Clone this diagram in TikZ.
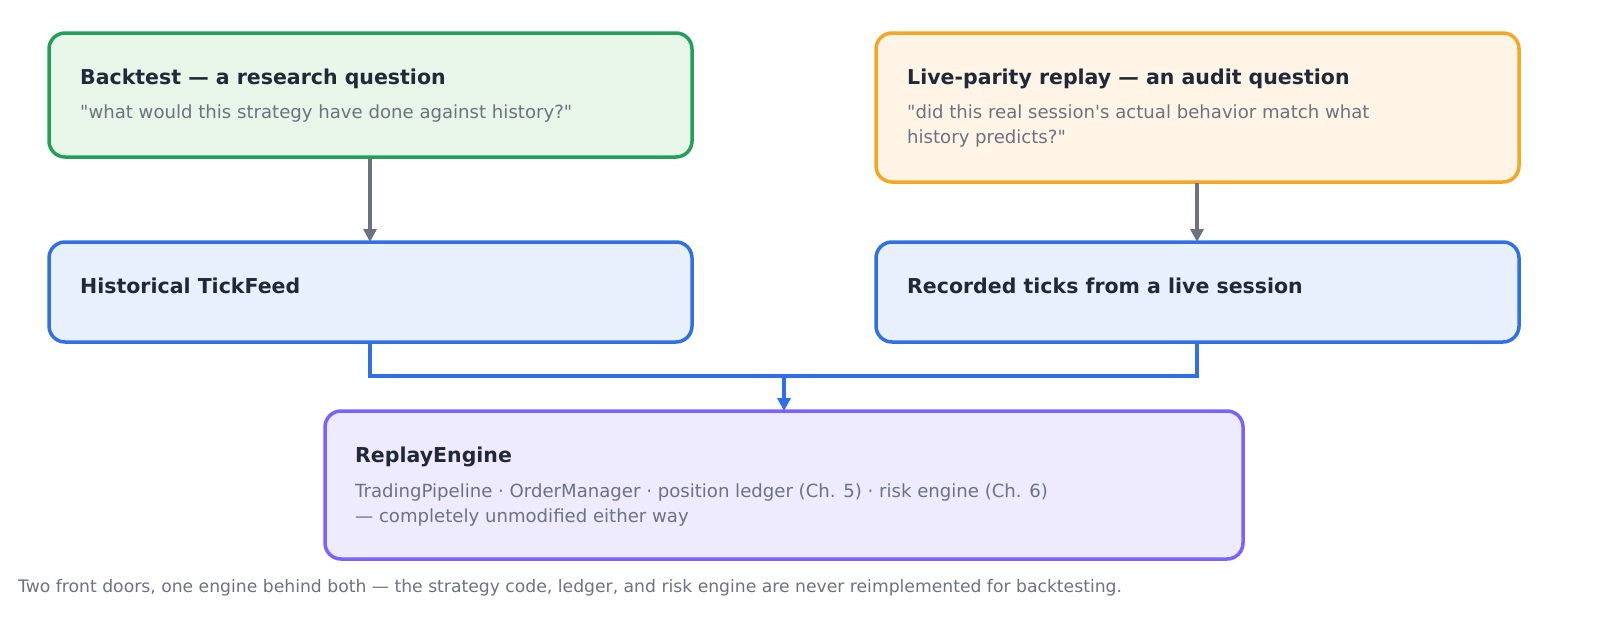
\documentclass[tikz,border=0pt]{standalone}
\usepackage{fontspec}
\setmainfont{DejaVu Sans}
\newfontfamily\dv{DejaVu Sans}
\usetikzlibrary{arrows.meta}
\definecolor{tcol}{HTML}{1F2937}
\definecolor{scol}{HTML}{6B7280}
\definecolor{gB}{HTML}{22A05A}\definecolor{gF}{HTML}{E8F5E9}
\definecolor{oB}{HTML}{F5A623}\definecolor{oF}{HTML}{FFF4E6}
\definecolor{bB}{HTML}{2F6FE8}\definecolor{bF}{HTML}{E8F0FE}
\definecolor{pB}{HTML}{7B61FF}\definecolor{pF}{HTML}{EEEBFF}
\definecolor{aG}{HTML}{6B7280}
\tikzset{box/.style={draw,line width=3.5pt,rounded corners=16pt},
 ttl/.style={anchor=base west,text=tcol,font=\bfseries\fontsize{20.5}{24}\selectfont,inner sep=0},
 sub/.style={anchor=base west,text=scol,font=\dv\fontsize{18.1}{25}\selectfont,inner sep=0,align=left},
 garr/.style={draw=aG,line width=3.5pt,-{Triangle[length=13pt,width=13pt]}},
 barr/.style={draw=bB,line width=3.5pt}}
\begin{document}
\begin{tikzpicture}[x=1pt,y=-1pt]
\useasboundingbox (0,0) rectangle (1600,637);
\draw[box,draw=gB,fill=gF] (49,33) rectangle (692,157);
\draw[box,draw=oB,fill=oF] (876,33) rectangle (1519,182);
\draw[box,draw=bB,fill=bF] (49,242) rectangle (692,342);
\draw[box,draw=bB,fill=bF] (876,242) rectangle (1519,342);
\draw[box,draw=pB,fill=pF] (325,411) rectangle (1243,559);
\node[ttl] (t1) at (80,84) {Backtest — a research question};
\node[sub] (s1) at (80,118) {"what would this strategy have done against history?"};
\node[ttl] (t2) at (907,84) {Live-parity replay — an audit question};
\node[sub] (s2) at (907,143) {"did this real session's actual behavior match what\\history predicts?"};
\node[ttl] (t3) at (80,293) {Historical TickFeed};
\node[ttl] (t4) at (907,293) {Recorded ticks from a live session};
\node[ttl] (t5) at (355,462) {ReplayEngine};
\node[sub] (s5) at (355,522) {TradingPipeline · OrderManager · position ledger (Ch. 5) · risk engine (Ch. 6)\\— completely unmodified either way};
\node[anchor=base west,inner sep=0,text=scol,font=\dv\fontsize{17.2}{20}\selectfont] (cap) at (18,592) {Two front doors, one engine behind both — the strategy code, ledger, and risk engine are never reimplemented for backtesting.};
\coordinate (a1) at (370,158); \coordinate (a2) at (370,242);
\coordinate (b1) at (1197,183); \coordinate (b2) at (1197,242);
\draw[garr] (a1) -- (a2);
\draw[garr] (b1) -- (b2);
\coordinate (c1) at (370,342); \coordinate (c2) at (1197,342);
\coordinate (m) at (784,376); \coordinate (e) at (784,411);
\draw[barr] (c1) |- (m) -| (c2);
\draw[barr,-{Triangle[length=13pt,width=13pt]}] (m) -- (e);
\end{tikzpicture}
\end{document}
